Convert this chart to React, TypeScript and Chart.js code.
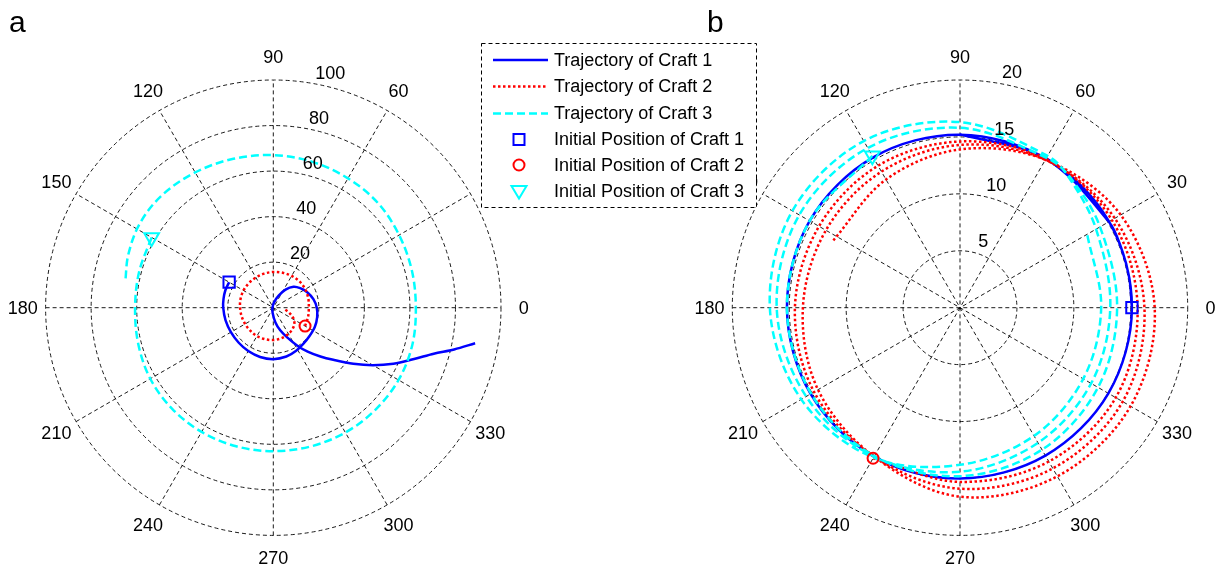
import React, { useEffect, useRef } from "react";
import { Chart, registerables } from "chart.js";

Chart.register(...registerables);

// ---------------- data ----------------
const angleTickLabels = ["0", "30", "60", "90", "120", "150", "180", "210", "240", "270", "300", "330"];
const ringTicksA = [20, 40, 60, 80, 100];
const ringTicksB = [5, 10, 15, 20];

const legendLabels = [
  "Trajectory of Craft 1",
  "Trajectory of Craft 2",
  "Trajectory of Craft 3",
  "Initial Position of Craft 1",
  "Initial Position of Craft 2",
  "Initial Position of Craft 3",
];

// Panel a (theta in degrees, rho)
const craft1A_theta = [150, 160, 170, 180, 195, 210, 225, 240, 255, 270, 285, 298, 310, 322, 335, 348, 360, 372, 385, 396, 406, 416, 426, 440, 510, 622, 638, 647, 655, 662, 668, 674, 679, 685, 690, 695, 700, 704, 707, 710];
const craft1A_r = [22.4, 22.4, 22.2, 22.0, 21.7, 21.5, 21.6, 22.0, 22.4, 22.6, 22.2, 21.4, 20.6, 20.2, 20.1, 19.7, 19.1, 18.0, 16.3, 14.6, 12.8, 9.6, 5.8, 2.6, 0.4, 2.2, 6.4, 10.4, 14.4, 19.4, 24.5, 29.8, 34.9, 42.9, 50.5, 58.2, 65.8, 73.3, 81.5, 90.0];

const craft2A_theta = [330, 345, 360, 375, 390, 405, 420, 435, 450, 465, 480, 495, 510, 525, 540, 555, 570, 585, 600, 615, 630, 645, 660, 672, 683, 693, 703, 716];
const craft2A_r = [16.1, 15.8, 15.6, 15.9, 16.2, 16.3, 16.1, 15.9, 15.7, 15.5, 15.3, 15.2, 15.1, 14.9, 14.6, 14.4, 14.3, 14.3, 14.4, 14.3, 14.2, 13.9, 13.3, 12.6, 11.6, 9.8, 7.2, 4.4];

const craft3A_theta = [150, 165, 180, 195, 210, 225, 240, 255, 270, 285, 300, 315, 330, 345, 360, 375, 390, 405, 420, 435, 450, 465, 480, 495, 508, 520, 530];
const craft3A_r = [61.7, 61.0, 60.7, 61.4, 62.4, 62.8, 63.0, 63.0, 63.0, 63.1, 63.3, 63.4, 63.5, 63.2, 62.6, 63.0, 63.8, 65.0, 65.6, 66.3, 67.0, 67.7, 68.6, 69.5, 69.3, 67.8, 66.0];

const initA_theta = [150, 330, 150];
const initA_r = [22.4, 16.1, 61.7];

// Panel b
const craft1B_theta = [0, 10, 20, 30, 60, 90, 120, 150, 180, 210, 240, 270, 300, 330, 360, 390, 420, 450];
const craft1B_r = [15.1, 15.1, 15.1, 15.1, 15.1, 15.2, 15.25, 15.25, 15.2, 15.15, 15.1, 15.0, 15.0, 15.05, 15.1, 15.12, 15.14, 15.22];

const craft2B_theta = [240, 270, 300, 330, 360, 390, 420, 450, 480, 510, 540, 570, 600, 630, 660, 690, 720, 750, 780, 810, 840, 870, 900, 930, 960, 990, 1020, 1050, 1080, 1110, 1140, 1170, 1200, 1232];
const craft2B_r = [15.27, 15.3, 15.6, 15.8, 15.6, 15.4, 15.1, 14.6, 14.4, 14.3, 14.5, 14.8, 15.1, 15.9, 16.3, 16.5, 16.2, 15.7, 15.0, 14.3, 13.8, 13.6, 13.8, 14.4, 15.1, 16.6, 17.1, 17.3, 17.1, 16.3, 15.0, 13.9, 13.0, 12.6];

const craft3B_theta = [120, 150, 180, 210, 240, 270, 300, 330, 360, 390, 410, 420, 450, 480, 510, 540, 570, 600, 630, 660, 690, 720, 750, 770, 780, 810, 840, 870, 900, 930, 960, 990, 1020, 1050, 1080, 1110];
const craft3B_r = [15.4, 15.25, 15.2, 15.1, 15.05, 14.8, 14.4, 14.0, 13.8, 14.2, 15.0, 15.2, 15.8, 16.2, 16.3, 16.1, 15.6, 15.1, 14.4, 13.7, 13.3, 13.2, 13.8, 14.9, 15.4, 16.3, 16.9, 17.0, 16.7, 16.1, 15.2, 13.8, 13.0, 12.5, 12.4, 12.9];

const initB_theta = [0, 240, 120];
const initB_r = [15.1, 15.27, 15.4];

// ---------------- layout ----------------
const W = 1227;
const H = 570;
const FONT = '"Liberation Sans", Arial, Helvetica, sans-serif';
const PANEL_A = { cx: 273.3, cy: 307.7, R: 227.7, rmax: 100, rings: ringTicksA, xId: "xa", yId: "ya" };
const PANEL_B = { cx: 960, cy: 307.7, R: 227.7, rmax: 20, rings: ringTicksB, xId: "xb", yId: "yb" };
const PANELS = [PANEL_A, PANEL_B];

const BLUE = "#0000ff";
const RED = "#ff0000";
const CYAN = "#00ffff";

const toXY = (th: number[], r: number[]) =>
  th.map((t, i) => ({ x: r[i] * Math.cos((t * Math.PI) / 180), y: r[i] * Math.sin((t * Math.PI) / 180) }));

function scaleRange(p: any) {
  const k = p.R / p.rmax;
  return {
    x: { min: -p.cx / k, max: (W - p.cx) / k },
    y: { min: -(H - p.cy) / k, max: p.cy / k },
  };
}

function geom(chart: any, p: any) {
  const xs = chart.scales[p.xId];
  const ys = chart.scales[p.yId];
  const cx = xs.getPixelForValue(0);
  const cy = ys.getPixelForValue(0);
  const R = xs.getPixelForValue(p.rmax) - cx;
  return { cx, cy, R, k: R / p.rmax };
}

const decorPlugin = {
  id: "polarDecor",
  beforeDatasetsDraw(chart: any) {
    const ctx = chart.ctx;
    for (const p of PANELS) {
      const g = geom(chart, p);
      ctx.save();
      ctx.strokeStyle = "#000";
      ctx.lineWidth = 0.9;
      ctx.setLineDash([4, 3]);
      for (const r of p.rings) {
        ctx.beginPath();
        ctx.arc(g.cx, g.cy, r * g.k, 0, Math.PI * 2);
        ctx.stroke();
      }
      for (let i = 0; i < 6; i++) {
        const a = (i * 30 * Math.PI) / 180;
        ctx.beginPath();
        ctx.moveTo(g.cx - g.R * Math.cos(a), g.cy + g.R * Math.sin(a));
        ctx.lineTo(g.cx + g.R * Math.cos(a), g.cy - g.R * Math.sin(a));
        ctx.stroke();
      }
      ctx.restore();
    }
  },
  afterDatasetsDraw(chart: any) {
    const ctx = chart.ctx;
    ctx.save();
    ctx.fillStyle = "#000";
    ctx.font = `18px ${FONT}`;
    for (const p of PANELS) {
      const g = geom(chart, p);
      ctx.textAlign = "center";
      ctx.textBaseline = "middle";
      angleTickLabels.forEach((lab, i) => {
        const a = (i * 30 * Math.PI) / 180;
        ctx.fillText(lab, g.cx + 1.1 * g.R * Math.cos(a), g.cy - 1.1 * g.R * Math.sin(a) + 1);
      });
      ctx.textAlign = "left";
      ctx.textBaseline = "bottom";
      const step = p.rings[1] - p.rings[0];
      const a82 = (82 * Math.PI) / 180;
      for (const r of p.rings) {
        const rr = (r + step / 20) * g.k;
        ctx.fillText("  " + r, g.cx + rr * Math.cos(a82), g.cy - rr * Math.sin(a82) + 3);
      }
    }
    ctx.font = `30px ${FONT}`;
    ctx.textAlign = "left";
    ctx.textBaseline = "alphabetic";
    ctx.fillText("a", 9, 32);
    ctx.fillText("b", 707, 32);

    const lx = 481, ly = 43, lw = 275, lh = 164;
    ctx.fillStyle = "#fff";
    ctx.fillRect(lx, ly, lw, lh);
    ctx.strokeStyle = "#000";
    ctx.lineWidth = 1;
    ctx.setLineDash([4, 3]);
    ctx.strokeRect(lx + 0.5, ly + 0.5, lw, lh);
    const rowY = [60, 86.5, 113.5, 139.5, 165, 191];
    const x0 = 493, x1 = 548, mx = 519, tx = 554;
    ctx.font = `18px ${FONT}`;
    ctx.textBaseline = "middle";
    ctx.textAlign = "left";
    legendLabels.forEach((lab, i) => {
      const y = rowY[i];
      ctx.lineWidth = 2.5;
      if (i === 0) { ctx.strokeStyle = BLUE; ctx.setLineDash([]); }
      if (i === 1) { ctx.strokeStyle = RED; ctx.setLineDash([2.5, 2.5]); }
      if (i === 2) { ctx.strokeStyle = CYAN; ctx.setLineDash([8, 4]); }
      if (i < 3) {
        ctx.beginPath();
        ctx.moveTo(x0, y);
        ctx.lineTo(x1, y);
        ctx.stroke();
      } else {
        ctx.setLineDash([]);
        ctx.lineWidth = 2;
        ctx.beginPath();
        if (i === 3) { ctx.strokeStyle = BLUE; ctx.rect(mx - 5.5, y - 5.5, 11, 11); }
        if (i === 4) { ctx.strokeStyle = RED; ctx.arc(mx, y, 5.5, 0, Math.PI * 2); }
        if (i === 5) {
          ctx.strokeStyle = CYAN;
          ctx.moveTo(mx - 7.5, y - 5);
          ctx.lineTo(mx + 7.5, y - 5);
          ctx.lineTo(mx, y + 7.5);
          ctx.closePath();
        }
        ctx.stroke();
      }
      ctx.fillStyle = "#000";
      ctx.fillText(lab, tx, y + 1);
    });
    ctx.restore();
  },
};

function lineDs(label: string, th: number[], r: number[], color: string, dash: number[], p: any, order: number) {
  return {
    label,
    data: toXY(th, r),
    xAxisID: p.xId,
    yAxisID: p.yId,
    showLine: true,
    borderColor: color,
    backgroundColor: color,
    borderWidth: 2.5,
    borderDash: dash,
    pointRadius: 0,
    tension: 0.34,
    fill: false,
    clip: false,
    order,
  };
}

function markerDs(label: string, th: number[], r: number[], idx: number, style: string, radius: number, rotation: number, color: string, p: any) {
  return {
    label,
    data: toXY([th[idx]], [r[idx]]),
    xAxisID: p.xId,
    yAxisID: p.yId,
    showLine: false,
    pointStyle: style,
    pointRadius: radius,
    pointRotation: rotation,
    pointBorderWidth: 2,
    borderColor: color,
    backgroundColor: "rgba(0,0,0,0)",
    clip: false,
    order: 1,
  };
}

export default function App() {
  const ref = useRef<HTMLCanvasElement | null>(null);
  useEffect(() => {
    if (!ref.current) return;
    const ra = scaleRange(PANEL_A);
    const rb = scaleRange(PANEL_B);
    const hidden = { display: false, bounds: "data" as const, grid: { display: false } };
    const chart = new Chart(ref.current, {
      type: "scatter",
      data: {
        datasets: [
          markerDs(legendLabels[3], initA_theta, initA_r, 0, "rect", 8, 0, BLUE, PANEL_A),
          markerDs(legendLabels[4], initA_theta, initA_r, 1, "circle", 5.5, 0, RED, PANEL_A),
          markerDs(legendLabels[5], initA_theta, initA_r, 2, "triangle", 8.5, 180, CYAN, PANEL_A),
          markerDs(legendLabels[3], initB_theta, initB_r, 0, "rect", 8, 0, BLUE, PANEL_B),
          markerDs(legendLabels[4], initB_theta, initB_r, 1, "circle", 5.5, 0, RED, PANEL_B),
          markerDs(legendLabels[5], initB_theta, initB_r, 2, "triangle", 8.5, 180, CYAN, PANEL_B),
          lineDs(legendLabels[2], craft3A_theta, craft3A_r, CYAN, [8, 4], PANEL_A, 4),
          lineDs(legendLabels[1], craft2A_theta, craft2A_r, RED, [2.5, 2.5], PANEL_A, 5),
          lineDs(legendLabels[0], craft1A_theta, craft1A_r, BLUE, [], PANEL_A, 6),
          lineDs(legendLabels[2], craft3B_theta, craft3B_r, CYAN, [8, 4], PANEL_B, 4),
          lineDs(legendLabels[1], craft2B_theta, craft2B_r, RED, [2.5, 2.5], PANEL_B, 5),
          lineDs(legendLabels[0], craft1B_theta, craft1B_r, BLUE, [], PANEL_B, 6),
        ] as any,
      },
      options: {
        animation: false,
        responsive: false,
        devicePixelRatio: 1,
        layout: { padding: 0, autoPadding: false },
        plugins: { legend: { display: false }, tooltip: { enabled: false }, title: { display: false } },
        scales: {
          xa: { type: "linear", position: "bottom", min: ra.x.min, max: ra.x.max, ...hidden },
          ya: { type: "linear", position: "left", min: ra.y.min, max: ra.y.max, ...hidden },
          xb: { type: "linear", position: "bottom", min: rb.x.min, max: rb.x.max, ...hidden },
          yb: { type: "linear", position: "left", min: rb.y.min, max: rb.y.max, ...hidden },
        } as any,
      },
      plugins: [decorPlugin],
    });
    return () => chart.destroy();
  }, []);
  return (
    <div style={{ position: "absolute", left: 0, top: 0, width: W, height: H, background: "#fff" }}>
      <canvas ref={ref} width={W} height={H} style={{ width: W, height: H, display: "block" }} />
    </div>
  );
}
